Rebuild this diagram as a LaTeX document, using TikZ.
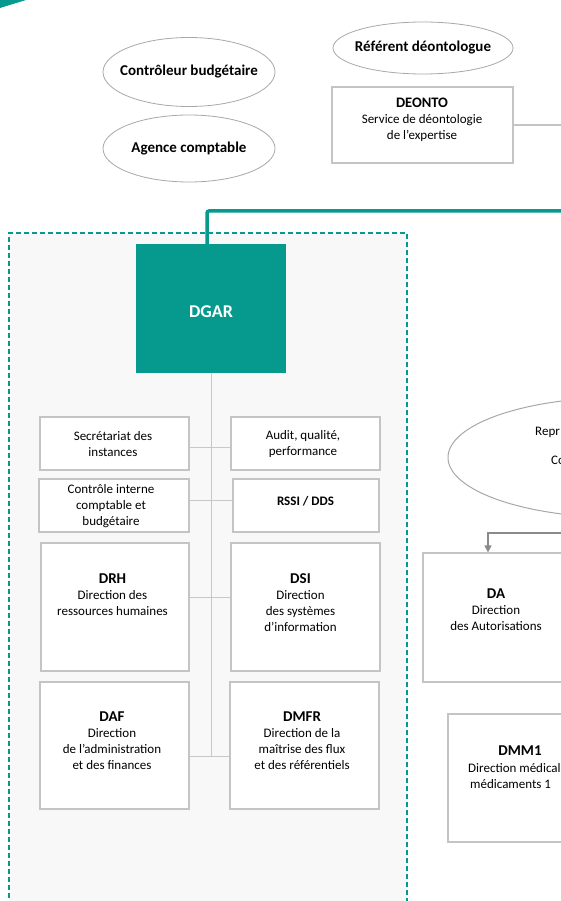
\documentclass[tikz,border=0pt]{standalone}
\usepackage{fontspec}
\setmainfont{Carlito}
\usetikzlibrary{shapes.geometric,arrows.meta}
\definecolor{tealc}{HTML}{069A8E}
\definecolor{ellgray}{HTML}{A8A8A8}
\definecolor{boxgray}{HTML}{C4C4C4}
\definecolor{linegray}{HTML}{C8C8C8}
\definecolor{arrgray}{HTML}{8A8A8A}
\definecolor{panelfill}{HTML}{F8F8F8}
\begin{document}
\begin{tikzpicture}[x=1pt,y=-1pt,
  ell/.style={ellipse,draw=ellgray,line width=0.8pt,fill=white,inner sep=0pt,
    font=\fontsize{15}{18}\selectfont\bfseries},
  box/.style={rectangle,draw=boxgray,line width=1.2pt,fill=white,inner sep=0pt},
  lbl/.style={align=center,inner sep=0pt,font=\fontsize{13}{16}\selectfont},
  conn/.style={draw=linegray,line width=1pt}
]
\useasboundingbox (0,0) rectangle (561,901);
\clip (0,0) rectangle (561,901);

% corner mark
\fill[tealc] (0,0) -- (26,0) -- (0,8) -- cycle;

% top ellipses
\node[ell,minimum width=172pt,minimum height=69pt] (cb) at (189,72) {\makebox[0pt]{Contrôleur budgétaire}};
\node[ell,minimum width=172pt,minimum height=67pt] (ac) at (189,148.5) {\makebox[0pt]{Agence comptable}};
\node[ell,minimum width=180pt,minimum height=52pt] (rd) at (423,48) {\makebox[0pt]{Référent déontologue}};

% DEONTO
\node[rectangle,draw=boxgray,line width=2pt,fill=white,minimum width=181pt,minimum height=76pt] (deonto) at (422,125) {};
\node[lbl] (tdeonto) at (422,120) {{\fontsize{14.5}{17}\selectfont\bfseries DEONTO}\\Service de déontologie\\de l’expertise};
\coordinate (deontoend) at (570,125);
\draw[draw=boxgray,line width=1.2pt] (deonto.east) -- (deontoend);

% panel
\node[rectangle,draw=tealc,fill=panelfill,line width=1.8pt,dash pattern=on 5pt off 3pt,
  minimum width=398pt,minimum height=680pt,anchor=north west] (panel) at (8,232) {};

% DGAR
\node[rectangle,fill=tealc,minimum width=150pt,minimum height=129pt,inner sep=0pt] (dgar) at (211,308.5) {};
\node[inner sep=0pt,text=white,font=\fontsize{18}{20}\selectfont\bfseries] (tdgar) at (211,312) {DGAR};
\coordinate (tealcorner) at (207,211);
\coordinate (tealend) at (570,211);
\draw[tealc,line width=3.5pt,rounded corners=2pt] ([xshift=-4pt]dgar.north) -- (tealcorner) -- (tealend);

% boxes
\node[box,minimum width=149pt,minimum height=53pt] (sec) at (114.5,443.5) {};
\node[box,minimum width=149pt,minimum height=53pt] (aud) at (305.5,443.5) {};
\node[box,minimum width=150pt,minimum height=53pt] (ctrl) at (114,505.5) {};
\node[box,minimum width=146pt,minimum height=53pt] (rssi) at (306,505.5) {};
\node[box,minimum width=148pt,minimum height=128pt] (drh) at (115,607) {};
\node[box,minimum width=149pt,minimum height=128pt] (dsi) at (305.5,607) {};
\node[box,minimum width=149pt,minimum height=127pt] (daf) at (114.5,745.5) {};
\node[box,minimum width=149pt,minimum height=127pt] (dmfr) at (304.5,745.5) {};

% connectors
\coordinate (trunkend) at (211,756);
\draw[conn] (dgar.south) -- (trunkend);
\draw[conn] (sec.east |- 0,447) -- (aud.west |- 0,447);
\draw[conn] (ctrl.east |- 0,500) -- (rssi.west |- 0,500);
\draw[conn] (drh.east |- 0,597) -- (dsi.west |- 0,597);
\draw[conn] (daf.east |- trunkend) -- (dmfr.west |- trunkend);

% labels
\node[lbl] (tsec) at (113,444.5) {Secrétariat des\\instances};
\node[lbl] (taud) at (303,444.5) {Audit, qualité,\\performance};
\node[lbl] (tctrl) at (111,506) {Contrôle interne\\comptable et\\budgétaire};
\node[inner sep=0pt,font=\fontsize{13}{16}\selectfont\bfseries] (trssi) at (305.5,501) {RSSI / DDS};
\node[lbl] (tdrh) at (112.5,594.5) {{\fontsize{15}{17}\selectfont\bfseries DRH}\\Direction des\\ressources humaines};
\node[lbl] (tdsi) at (300.5,602.5) {{\fontsize{15}{17}\selectfont\bfseries DSI}\\Direction\\des systèmes\\d’information};
\node[lbl] (tdaf) at (112,741) {{\fontsize{15}{17}\selectfont\bfseries DAF}\\Direction\\de l’administration\\et des finances};
\node[lbl] (tdmfr) at (302,741) {{\fontsize{15}{17}\selectfont\bfseries DMFR}\\Direction de la\\maîtrise des flux\\et des référentiels};

% right side
\node[ellipse,draw=ellgray,line width=1pt,fill=white,minimum width=344pt,minimum height=120pt] (rep) at (620,457.5) {};
\node[lbl,anchor=west] (trep1) at (535,432) {Repr};
\node[lbl,anchor=west] (trep2) at (551,460) {Co};

\node[box,minimum width=143pt,minimum height=129pt] (da) at (494.5,617.5) {};
\node[lbl] (tda) at (496,610) {{\fontsize{15}{17}\selectfont\bfseries DA}\\Direction\\des Autorisations};
\coordinate (arrstart) at (570,533);
\coordinate (arrcorner) at (488,533);
\draw[draw=arrgray,line width=1.2pt,-{Triangle[width=7pt,length=7pt]}] (arrstart) -- (arrcorner) -- (arrcorner |- da.north);

\node[box,minimum width=145pt,minimum height=128pt] (dmm) at (520.5,778) {};
\node[inner sep=0pt,font=\fontsize{15}{17}\selectfont\bfseries] (tdmm) at (520,751) {DMM1};
\node[lbl,anchor=west] (tdmm1) at (468,768) {Direction médical};
\node[lbl,anchor=west] (tdmm2) at (470,784) {médicaments 1};
\end{tikzpicture}
\end{document}
